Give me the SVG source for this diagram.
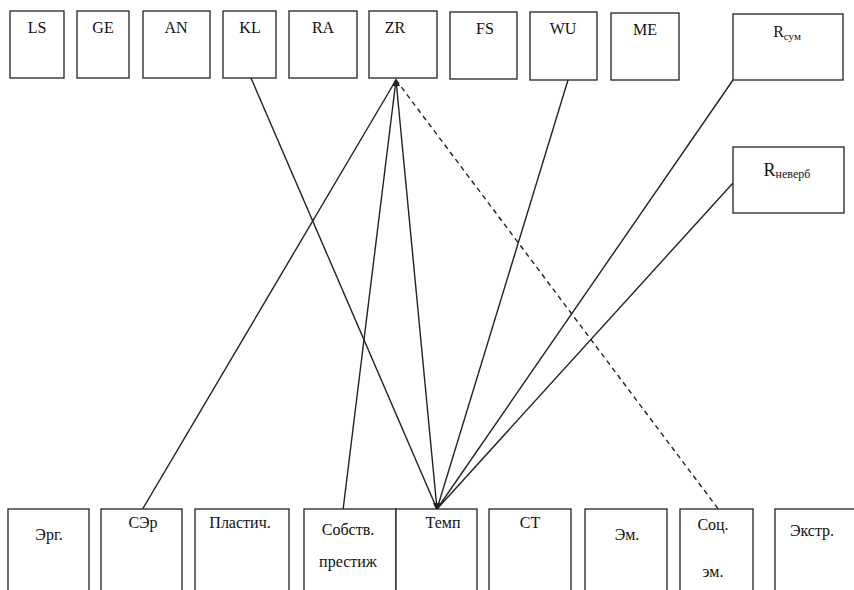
<svg xmlns="http://www.w3.org/2000/svg" width="854" height="590" viewBox="0 0 854 590">
<style>
.box{fill:#fff;stroke:#222;stroke-width:1.3}
.t{font-family:"Liberation Serif","Times New Roman",serif;font-size:16px;fill:#111;text-anchor:middle}
.s{font-size:11px}
.c{stroke:#222;stroke-width:1.4;fill:none}
.d{stroke-dasharray:5,4}
</style>
<rect width="854" height="590" fill="#fff"/>
<g id="connectors">
<line class="c" x1="251" y1="78" x2="437" y2="509"/>
<line class="c" x1="396" y1="80" x2="142" y2="510"/>
<line class="c" x1="396" y1="80" x2="343" y2="510"/>
<line class="c" x1="396" y1="80" x2="437" y2="509"/>
<line class="c d" x1="396" y1="80" x2="719" y2="510"/>
<line class="c" x1="568" y1="80" x2="437" y2="509"/>
<line class="c" x1="733" y1="80" x2="437" y2="509"/>
<line class="c" x1="733" y1="183" x2="437" y2="509"/>
<path d="M437 512 L433 503 L441 503 Z" fill="#222"/>
<path d="M396 78 L392 86 L400 86 Z" fill="#222"/>
</g>
<g id="LS"><rect class="box" x="10" y="11" width="54" height="67"/><text class="t" x="37" y="33">LS</text></g>
<g id="GE"><rect class="box" x="77" y="11" width="52" height="67"/><text class="t" x="103" y="33">GE</text></g>
<g id="AN"><rect class="box" x="143" y="11" width="67" height="67"/><text class="t" x="176" y="33">AN</text></g>
<g id="KL"><rect class="box" x="223" y="11" width="53" height="67"/><text class="t" x="250" y="33">KL</text></g>
<g id="RA"><rect class="box" x="289" y="11" width="68" height="67"/><text class="t" x="323" y="33">RA</text></g>
<g id="ZR"><rect class="box" x="369" y="11" width="68" height="67"/><text class="t" x="395" y="33">ZR</text></g>
<g id="FS"><rect class="box" x="450" y="12" width="67" height="67"/><text class="t" x="485" y="34">FS</text></g>
<g id="WU"><rect class="box" x="530" y="12" width="67" height="68"/><text class="t" x="563" y="34">WU</text></g>
<g id="ME"><rect class="box" x="611" y="13" width="68" height="67"/><text class="t" x="645" y="35">ME</text></g>
<g id="Rsum"><rect class="box" x="733" y="14" width="110" height="66"/><text class="t" x="787" y="37">R<tspan class="s" dy="3">сум</tspan></text></g>
<g id="Rneverb"><rect class="box" x="733" y="147" width="111" height="66"/><text class="t" x="787" y="176" style="font-size:18px">R<tspan style="font-size:12px" dy="2">неверб</tspan></text></g>
<g id="Erg"><rect class="box" x="8" y="509" width="81" height="90"/><text class="t" x="49" y="540">Эрг.</text></g>
<g id="SEr"><rect class="box" x="101" y="509" width="81" height="90"/><text class="t" x="143" y="528">СЭр</text></g>
<g id="Plastich"><rect class="box" x="195" y="509" width="94" height="90"/><text class="t" x="240" y="528">Пластич.</text></g>
<g id="Sobstv"><rect class="box" x="304" y="509" width="92" height="90"/><text class="t" x="348" y="535">Собств.</text><text class="t" x="348" y="567">престиж</text></g>
<g id="Temp"><rect class="box" x="396" y="509" width="81" height="90"/><text class="t" x="443" y="528">Темп</text></g>
<g id="ST"><rect class="box" x="489" y="509" width="82" height="90"/><text class="t" x="530" y="528">СТ</text></g>
<g id="Em"><rect class="box" x="585" y="509" width="82" height="90"/><text class="t" x="627" y="540">Эм.</text></g>
<g id="SocEm"><rect class="box" x="680" y="509" width="73" height="90"/><text class="t" x="713" y="530">Соц.</text><text class="t" x="713" y="577">эм.</text></g>
<g id="Ekstr"><rect class="box" x="775" y="509" width="90" height="90"/><text class="t" x="812" y="536">Экстр.</text></g>
</svg>
